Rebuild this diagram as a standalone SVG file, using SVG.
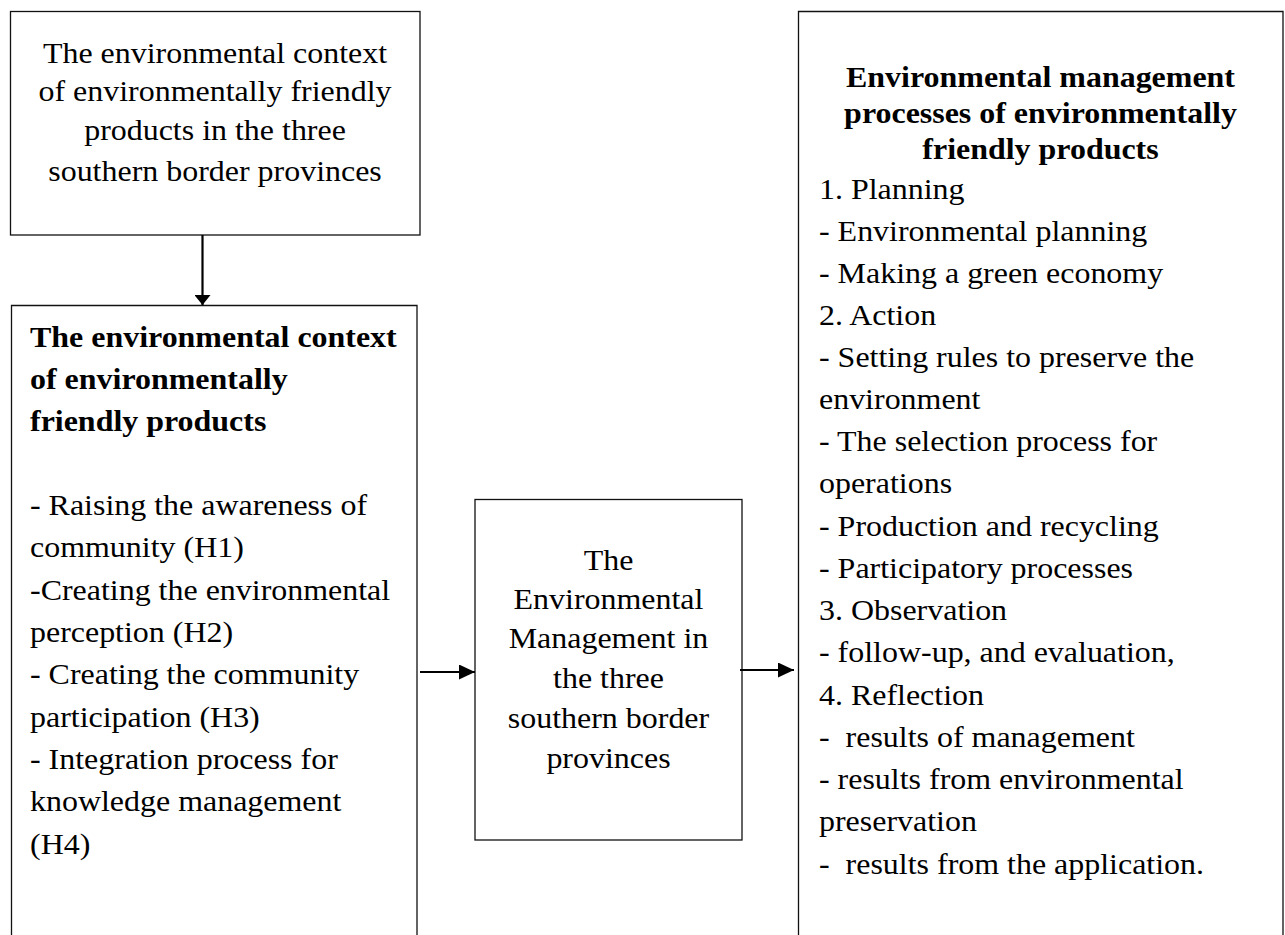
<svg xmlns="http://www.w3.org/2000/svg" width="1285" height="935" viewBox="0 0 1285 935">
<style>
.box{fill:#fff;stroke:#111;stroke-width:1.3}
.edge{fill:none;stroke:#000;stroke-width:2.2}
text{font-family:"Liberation Serif","Times New Roman",serif;font-size:30px;fill:#000}
.b{font-weight:bold}
.c{text-anchor:middle}
</style>
<defs>
<marker id="ah" markerUnits="userSpaceOnUse" markerWidth="16" markerHeight="16" refX="16" refY="7.5" orient="auto">
<path d="M0,0 L16,7.5 L0,15 Z" fill="#000"/>
</marker>
<marker id="ahv" markerUnits="userSpaceOnUse" markerWidth="11" markerHeight="16" refX="10" refY="8" orient="auto">
<path d="M0,0 L10,8 L0,16 Z" fill="#000"/>
</marker>
</defs>
<rect width="1285" height="935" fill="#fff"/>

<g id="context-top">
<rect class="box" x="10.5" y="11.5" width="409.5" height="223.5"/>
<g transform="translate(215,0) scale(1.065,1)">
<text class="c" x="0" y="63">The environmental context</text>
<text class="c" x="0" y="101">of environmentally friendly</text>
<text class="c" x="0" y="140">products in the three</text>
<text class="c" x="0" y="181">southern border provinces</text>
</g>
</g>

<g id="context-products">
<path class="box" d="M11.5,940 V305.5 H417 V940"/>
<g transform="translate(30,0) scale(1.065,1)">
<text class="b" x="0" y="347">The environmental context</text>
<text class="b" x="0" y="389">of environmentally</text>
<text class="b" x="0" y="431">friendly products</text>
<text x="0" y="515">- Raising the awareness of</text>
<text x="0" y="557">community (H1)</text>
<text x="0" y="600">-Creating the environmental</text>
<text x="0" y="642">perception (H2)</text>
<text x="0" y="684">- Creating the community</text>
<text x="0" y="727">participation (H3)</text>
<text x="0" y="769">- Integration process for</text>
<text x="0" y="811">knowledge management</text>
<text x="0" y="854">(H4)</text>
</g>
</g>

<g id="management">
<rect class="box" x="475" y="499.5" width="267" height="340.5"/>
<g transform="translate(608.5,0) scale(1.065,1)">
<text class="c" x="0" y="570">The</text>
<text class="c" x="0" y="609">Environmental</text>
<text class="c" x="0" y="648">Management in</text>
<text class="c" x="0" y="688">the three</text>
<text class="c" x="0" y="728">southern border</text>
<text class="c" x="0" y="768">provinces</text>
</g>
</g>

<g id="processes">
<path class="box" d="M798.5,940 V11.5 H1283 V940"/>
<g transform="translate(1040.5,0) scale(1.065,1)">
<text class="b c" x="0" y="87">Environmental management</text>
<text class="b c" x="0" y="123">processes of environmentally</text>
<text class="b c" x="0" y="159">friendly products</text>
</g>
<g transform="translate(819,0) scale(1.065,1)">
<text x="0" y="199">1. Planning</text>
<text x="0" y="241">- Environmental planning</text>
<text x="0" y="283">- Making a green economy</text>
<text x="0" y="325">2. Action</text>
<text x="0" y="367">- Setting rules to preserve the</text>
<text x="0" y="409">environment</text>
<text x="0" y="451">- The selection process for</text>
<text x="0" y="493">operations</text>
<text x="0" y="536">- Production and recycling</text>
<text x="0" y="578">- Participatory processes</text>
<text x="0" y="620">3. Observation</text>
<text x="0" y="662">- follow-up, and evaluation,</text>
<text x="0" y="705">4. Reflection</text>
<text x="0" y="747" xml:space="preserve">-  results of management</text>
<text x="0" y="789">- results from environmental</text>
<text x="0" y="831">preservation</text>
<text x="0" y="874" xml:space="preserve">-  results from the application.</text>
</g>
</g>

<g id="connectors">
<line class="edge" x1="202.5" y1="235" x2="202.5" y2="305" marker-end="url(#ahv)"/>
<line class="edge" x1="420" y1="672" x2="475" y2="672" marker-end="url(#ah)"/>
<line class="edge" x1="740" y1="670" x2="794" y2="670" marker-end="url(#ah)"/>
</g>
</svg>
